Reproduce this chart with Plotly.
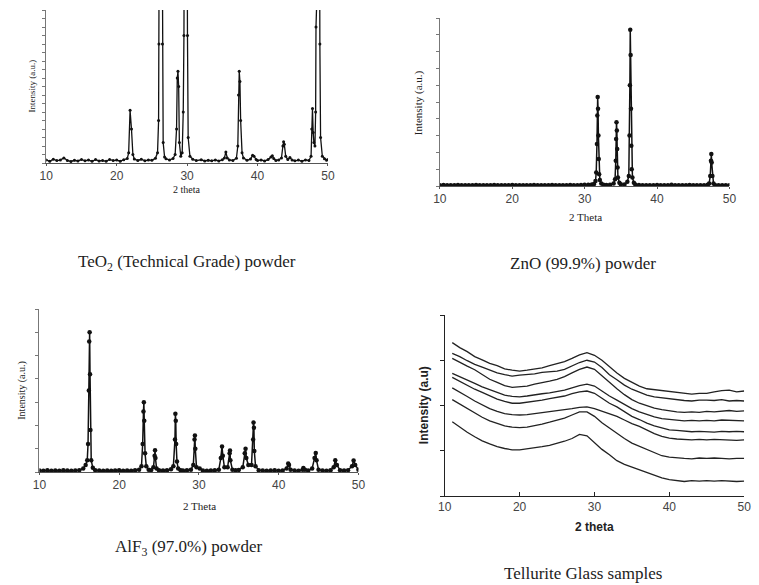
import plotly.graph_objects as go

# --- TeO2 (technical grade) powder -------------------------------------
teo2_x = [10.0, 10.5, 11.0, 11.5, 12.0, 12.5, 13.0, 13.5, 14.0, 14.5, 15.0, 15.5, 16.0, 16.5,
          17.0, 17.5, 18.0, 18.5, 19.0, 19.5, 20.0, 20.5, 21.0, 21.5, 21.7, 21.9, 22.1, 22.3,
          22.5, 23.0, 23.5, 24.0, 24.5, 25.0, 25.5, 25.8, 25.95, 26.0, 26.05, 26.45, 26.5, 26.6,
          26.8, 27.0, 27.5, 28.0, 28.3, 28.5, 28.6, 28.7, 28.8, 28.9, 29.1, 29.3, 29.45, 29.55,
          29.6, 30.0, 30.05, 30.15, 30.4, 30.8, 31.3, 32.0, 32.5, 33.0, 33.5, 34.0, 34.5, 35.0,
          35.3, 35.5, 35.7, 36.0, 36.5, 37.0, 37.2, 37.3, 37.4, 37.5, 37.6, 37.8, 38.0, 38.5,
          39.0, 39.3, 39.5, 39.8, 40.0, 40.5, 41.0, 41.5, 41.9, 42.1, 42.3, 42.6, 43.0, 43.4,
          43.6, 43.7, 43.8, 44.0, 44.3, 44.6, 44.9, 45.3, 45.8, 46.3, 46.8, 47.3, 47.6, 47.7,
          47.8, 47.9, 48.0, 48.15, 48.25, 48.3, 48.35, 48.8, 48.85, 48.95, 49.2, 49.5, 49.8, 50.0]
teo2_y = [1.8, 1.0, 2.2, 1.4, 1.7, 3.0, 1.5, 0.9, 1.6, 1.2, 2.1, 1.3, 1.8, 1.0,
          2.0, 1.2, 1.5, 1.0, 2.1, 1.4, 1.7, 1.1, 1.9, 2.6, 6, 31, 20, 5,
          2.3, 1.5, 2.2, 1.3, 1.8, 1.6, 2.8, 6, 25, 70, 150, 150, 70, 12,
          3.5, 2.5, 1.8, 2.6, 5, 20, 50, 54, 45, 12, 4, 6, 30, 75,
          150, 150, 75, 15, 4, 2.2, 1.4, 1.9, 1.2, 1.6, 1.3, 1.8, 1.2, 1.9,
          3, 6.5, 3, 1.8, 1.5, 2.8, 10, 40, 54, 48, 25, 6, 3, 1.6,
          2.3, 4.5, 4, 2, 1.4, 1.8, 1.2, 2, 3.5, 4.2, 2.6, 1.5, 1.8, 3,
          10, 12.5, 11, 4, 2, 3.2, 1.8, 1.3, 1.7, 1.1, 1.8, 1.5, 4, 20,
          32, 18, 12, 10, 30, 80, 150, 150, 70, 15, 4, 2.5, 1.6, 2.0]

# --- ZnO (99.9%) powder -------------------------------------------------
zno_x = [10.0, 10.5, 11.0, 11.5, 12.0, 12.5, 13.0, 13.5, 14.0, 14.5, 15.0, 15.5, 16.0, 16.5,
         17.0, 17.5, 18.0, 18.5, 19.0, 19.5, 20.0, 20.5, 21.0, 21.5, 22.0, 22.5, 23.0, 23.5,
         24.0, 24.5, 25.0, 25.5, 26.0, 26.5, 27.0, 27.5, 28.0, 28.5, 29.0, 29.5, 30.0, 30.5,
         31.0, 31.3, 31.5, 31.6, 31.7, 31.75, 31.8, 31.85, 31.9, 31.95, 32.0, 32.1, 32.3, 32.6,
         33.0, 33.5, 34.0, 34.2, 34.3, 34.35, 34.4, 34.45, 34.5, 34.55, 34.6, 34.8, 35.0, 35.5,
         35.9, 36.1, 36.2, 36.25, 36.3, 36.35, 36.4, 36.45, 36.5, 36.6, 36.8, 37.0, 37.5, 38.0,
         38.5, 39.0, 39.5, 40.0, 40.5, 41.0, 41.5, 42.0, 42.5, 43.0, 43.5, 44.0, 44.5, 45.0,
         45.5, 46.0, 46.5, 47.0, 47.2, 47.35, 47.45, 47.5, 47.55, 47.65, 47.8, 48.0, 48.5, 49.0,
         49.5, 50.0]
zno_y = [0.05, 0.06, 0.05, 0.04, 0.05, 0.06, 0.05, 0.05, 0.04, 0.05, 0.06, 0.05, 0.05, 0.04,
         0.05, 0.06, 0.05, 0.05, 0.04, 0.05, 0.06, 0.05, 0.05, 0.05, 0.04, 0.05, 0.06, 0.05,
         0.05, 0.04, 0.05, 0.06, 0.05, 0.05, 0.04, 0.05, 0.06, 0.05, 0.05, 0.06, 0.07, 0.08,
         0.09, 0.12, 0.3, 0.8, 2.5, 4.2, 5.3, 4.6, 3.0, 1.6, 0.7, 0.35, 0.15, 0.08,
         0.06, 0.07, 0.15, 0.4, 1.5, 2.8, 3.8, 3.3, 2.2, 1.1, 0.5, 0.2, 0.1, 0.09,
         0.25, 0.6, 3.0, 6.0, 9.3, 7.8, 4.6, 2.4, 1.0, 0.5, 0.2, 0.09, 0.06, 0.05,
         0.05, 0.04, 0.05, 0.06, 0.05, 0.05, 0.04, 0.07, 0.05, 0.05, 0.04, 0.05, 0.06, 0.05,
         0.05, 0.04, 0.05, 0.07, 0.15, 0.6, 1.5, 1.9, 1.4, 0.6, 0.15, 0.06, 0.05, 0.04,
         0.05, 0.05]

# --- AlF3 (97.0%) powder ------------------------------------------------
alf3_x = [10.0, 10.5, 11.0, 11.5, 12.0, 12.5, 13.0, 13.5, 14.0, 14.5, 15.0, 15.5, 15.8, 16.0,
          16.1, 16.2, 16.25, 16.3, 16.35, 16.4, 16.5, 16.7, 17.0, 17.5, 18.0, 18.5, 19.0, 19.5,
          20.0, 20.5, 21.0, 21.5, 22.0, 22.5, 22.8, 22.95, 23.05, 23.1, 23.15, 23.25, 23.4, 23.7,
          24.0, 24.3, 24.45, 24.5, 24.55, 24.7, 25.0, 25.5, 26.0, 26.5, 26.8, 27.0, 27.05, 27.1,
          27.15, 27.25, 27.4, 27.7, 28.0, 28.5, 29.0, 29.3, 29.45, 29.5, 29.55, 29.7, 30.1, 30.5,
          31.0, 31.5, 32.0, 32.5, 32.75, 32.9, 33.0, 33.2, 33.6, 33.85, 33.9, 33.95, 34.2, 34.6,
          35.0, 35.5, 35.75, 35.85, 35.95, 36.2, 36.6, 36.8, 36.85, 36.9, 36.95, 37.1, 37.5, 38.0,
          38.5, 39.0, 39.5, 40.0, 40.5, 41.0, 41.2, 41.3, 41.5, 42.0, 42.5, 43.0, 43.1, 43.3,
          43.7, 44.2, 44.5, 44.65, 44.75, 45.0, 45.5, 46.0, 46.5, 46.9, 47.1, 47.3, 47.7, 48.2,
          48.7, 49.2, 49.4, 49.6, 50.0]
alf3_y = [0.06, 0.05, 0.07, 0.05, 0.06, 0.05, 0.07, 0.06, 0.05, 0.06, 0.08, 0.15, 0.3, 0.5,
          1.2, 3.5, 5.6, 6.0, 4.2, 1.8, 0.5, 0.18, 0.08, 0.06, 0.05, 0.06, 0.05, 0.06,
          0.07, 0.05, 0.06, 0.05, 0.07, 0.1, 0.25, 1.2, 2.6, 3.0, 2.2, 0.8, 0.25, 0.1,
          0.08, 0.2, 0.7, 0.93, 0.6, 0.15, 0.07, 0.06, 0.07, 0.12, 0.25, 1.4, 2.5, 2.2,
          1.2, 0.45, 0.15, 0.08, 0.06, 0.07, 0.1, 0.3, 1.4, 1.57, 1.0, 0.2, 0.15, 0.06,
          0.05, 0.06, 0.07, 0.1, 0.6, 1.1, 0.7, 0.2, 0.2, 0.8, 0.92, 0.5, 0.1, 0.07,
          0.09, 0.2, 0.8, 1.0, 0.6, 0.3, 0.3, 1.4, 2.13, 1.9, 0.9, 0.25, 0.08, 0.06,
          0.05, 0.06, 0.07, 0.05, 0.06, 0.15, 0.36, 0.3, 0.1, 0.06, 0.05, 0.1, 0.17, 0.1,
          0.06, 0.15, 0.6, 0.82, 0.5, 0.1, 0.06, 0.05, 0.07, 0.2, 0.5, 0.3, 0.08, 0.06,
          0.08, 0.25, 0.49, 0.3, 0.1]

# --- Tellurite glass samples (8 traces, top to bottom) ------------------
glass_x = [11, 12, 13, 14, 15, 16, 17, 18, 19, 20, 21, 22, 23, 24, 25, 26, 27, 28, 29, 30,
           31, 32, 33, 34, 35, 36, 37, 38, 39, 40, 41, 42, 43, 44, 45, 46, 47, 48, 49, 50]
glass_1 = [3.39, 3.28, 3.19, 3.08, 3.01, 2.93, 2.88, 2.81, 2.78, 2.76, 2.78, 2.80, 2.83, 2.88,
           2.92, 2.97, 3.04, 3.12, 3.17, 3.11, 3.00, 2.85, 2.72, 2.60, 2.51, 2.43, 2.37, 2.35,
           2.32, 2.31, 2.28, 2.27, 2.25, 2.27, 2.27, 2.30, 2.33, 2.34, 2.30, 2.32]
glass_2 = [3.15, 3.08, 2.99, 2.91, 2.85, 2.79, 2.72, 2.68, 2.65, 2.67, 2.68, 2.70, 2.73, 2.74,
           2.76, 2.80, 2.87, 2.95, 3.00, 2.96, 2.84, 2.68, 2.57, 2.45, 2.36, 2.29, 2.23, 2.19,
           2.17, 2.14, 2.13, 2.11, 2.10, 2.12, 2.12, 2.11, 2.13, 2.10, 2.11, 2.10]
glass_3 = [3.04, 2.95, 2.87, 2.79, 2.68, 2.58, 2.51, 2.44, 2.40, 2.41, 2.43, 2.47, 2.50, 2.54,
           2.58, 2.64, 2.72, 2.80, 2.85, 2.80, 2.66, 2.51, 2.37, 2.24, 2.13, 2.05, 1.99, 1.94,
           1.91, 1.88, 1.86, 1.85, 1.86, 1.85, 1.87, 1.86, 1.88, 1.89, 1.87, 1.88]
glass_4 = [2.71, 2.64, 2.56, 2.49, 2.41, 2.35, 2.28, 2.23, 2.20, 2.19, 2.21, 2.24, 2.26, 2.28,
           2.31, 2.34, 2.39, 2.44, 2.47, 2.43, 2.32, 2.21, 2.12, 2.02, 1.93, 1.86, 1.80, 1.75,
           1.71, 1.69, 1.68, 1.66, 1.67, 1.66, 1.67, 1.66, 1.68, 1.67, 1.66, 1.66]
glass_5 = [2.62, 2.53, 2.45, 2.36, 2.29, 2.21, 2.14, 2.09, 2.05, 2.05, 2.07, 2.10, 2.12, 2.15,
           2.18, 2.21, 2.26, 2.30, 2.32, 2.27, 2.16, 2.05, 1.97, 1.86, 1.76, 1.69, 1.61, 1.55,
           1.50, 1.46, 1.45, 1.43, 1.42, 1.43, 1.42, 1.41, 1.43, 1.42, 1.43, 1.42]
glass_6 = [2.39, 2.30, 2.20, 2.10, 2.01, 1.93, 1.87, 1.82, 1.80, 1.79, 1.80, 1.82, 1.84, 1.86,
           1.88, 1.90, 1.93, 1.96, 1.97, 1.93, 1.87, 1.81, 1.76, 1.68, 1.60, 1.54, 1.46, 1.38,
           1.32, 1.28, 1.26, 1.25, 1.24, 1.25, 1.24, 1.25, 1.24, 1.24, 1.23, 1.24]
glass_7 = [2.13, 2.03, 1.93, 1.83, 1.74, 1.66, 1.60, 1.55, 1.52, 1.51, 1.52, 1.55, 1.59, 1.63,
           1.68, 1.72, 1.79, 1.86, 1.86, 1.76, 1.62, 1.50, 1.38, 1.27, 1.17, 1.10, 1.02, 0.95,
           0.89, 0.86, 0.84, 0.83, 0.82, 0.84, 0.83, 0.84, 0.83, 0.82, 0.83, 0.83]
glass_8 = [1.64, 1.52, 1.41, 1.31, 1.22, 1.15, 1.09, 1.05, 1.02, 1.02, 1.04, 1.06, 1.09, 1.12,
           1.16, 1.21, 1.27, 1.36, 1.33, 1.18, 1.03, 0.91, 0.78, 0.70, 0.64, 0.58, 0.53, 0.46,
           0.40, 0.36, 0.34, 0.32, 0.34, 0.33, 0.34, 0.33, 0.34, 0.33, 0.32, 0.33]
glass_traces = [glass_1, glass_2, glass_3, glass_4, glass_5, glass_6, glass_7, glass_8]

captions = ["TeO<sub>2</sub> (Technical Grade) powder", "ZnO (99.9%) powder",
            "AlF<sub>3</sub> (97.0%) powder", "Tellurite Glass samples"]

W, H = 759, 585
SERIF = "Liberation Serif"
SANS = "Liberation Sans"


def px(x):
    return x / W


def py(y):
    return 1 - y / H


fig = go.Figure()

# powder patterns: line + dots
fig.add_trace(go.Scatter(x=teo2_x, y=teo2_y, mode="lines+markers", xaxis="x", yaxis="y",
                         line=dict(color="#111", width=1.3),
                         marker=dict(color="#111", size=3)))
fig.add_trace(go.Scatter(x=zno_x, y=zno_y, mode="lines+markers", xaxis="x2", yaxis="y2",
                         line=dict(color="#111", width=1.5),
                         marker=dict(color="#111", size=4.5)))
fig.add_trace(go.Scatter(x=alf3_x, y=alf3_y, mode="lines+markers", xaxis="x3", yaxis="y3",
                         line=dict(color="#111", width=1.5),
                         marker=dict(color="#111", size=4.5)))
for tr in glass_traces:
    fig.add_trace(go.Scatter(x=glass_x, y=tr, mode="lines", xaxis="x4", yaxis="y4",
                             line=dict(color="#222", width=1.3)))

xtick = dict(range=[10, 50], tickvals=[10, 20, 30, 40, 50], showgrid=False, zeroline=False,
             showline=True, linecolor="#555", linewidth=1, ticks="outside", ticklen=2,
             tickcolor="#555", tickfont=dict(family=SANS, size=12, color="#444"))
ybase = dict(showgrid=False, zeroline=False, showline=True, linecolor="#777", linewidth=1,
             showticklabels=False, ticks="outside", ticklen=3, tickcolor="#777")

fig.update_layout(
    width=W, height=H, margin=dict(l=0, r=0, t=0, b=0),
    paper_bgcolor="white", plot_bgcolor="white", showlegend=False,
    xaxis=dict(xtick, domain=[px(40), px(327)], anchor="y"),
    yaxis=dict(ybase, domain=[py(163), py(10)], range=[0, 90], dtick=5, anchor="x"),
    xaxis2=dict(xtick, domain=[px(441), px(736)], anchor="y2"),
    yaxis2=dict(ybase, domain=[py(186), py(18)], range=[0, 10], dtick=1, anchor="x2"),
    xaxis3=dict(xtick, domain=[px(33), px(358)], anchor="y3"),
    yaxis3=dict(ybase, domain=[py(472), py(309)], range=[0, 7], dtick=1, anchor="x3"),
    xaxis4=dict(xtick, domain=[px(446), px(751)], anchor="y4", ticks="inside", ticklen=4,
                linecolor="#222", tickcolor="#222"),
    yaxis4=dict(ybase, domain=[py(496), py(315)], range=[0, 4], dtick=1, anchor="x4",
                linecolor="#222", tickcolor="#222", ticklen=4),
)

ann = []
# axis titles
ann.append(dict(x=px(25), y=py(86), text="Intensity (a.u.)", textangle=-90,
                font=dict(family=SERIF, size=9, color="#222")))
ann.append(dict(x=px(183), y=py(190), text="2 theta",
                font=dict(family=SERIF, size=10, color="#222")))
ann.append(dict(x=px(419), y=py(103), text="Intensity (a.u.)", textangle=-90,
                font=dict(family=SERIF, size=11, color="#222")))
ann.append(dict(x=px(589), y=py(217), text="2 Theta",
                font=dict(family=SERIF, size=11, color="#222")))
ann.append(dict(x=px(15), y=py(390), text="Intensity (a.u.)", textangle=-90,
                font=dict(family=SERIF, size=10, color="#222")))
ann.append(dict(x=px(196), y=py(506), text="2 Theta",
                font=dict(family=SERIF, size=11, color="#222")))
ann.append(dict(x=px(425), y=py(405), text="<b>Intensity (a.u)</b>", textangle=-90,
                font=dict(family=SANS, size=12, color="#222")))
ann.append(dict(x=px(599), y=py(527), text="<b>2 theta</b>",
                font=dict(family=SANS, size=12, color="#222")))
# captions
cap_pos = [(183, 263), (587, 263), (185, 548), (587, 573)]
for text, (cx, cy) in zip(captions, cap_pos):
    ann.append(dict(x=px(cx), y=py(cy), text=text,
                    font=dict(family=SERIF, size=17, color="#222")))
for a in ann:
    a.update(xref="paper", yref="paper", showarrow=False, xanchor="center", yanchor="middle")
fig.update_layout(annotations=ann)

# page without body margin so the 759x585 figure fills the window exactly
fig.write_html("out.html", config={"displayModeBar": False},
               post_script="document.body.style.margin='0';"
               "document.documentElement.style.overflow='hidden';")
